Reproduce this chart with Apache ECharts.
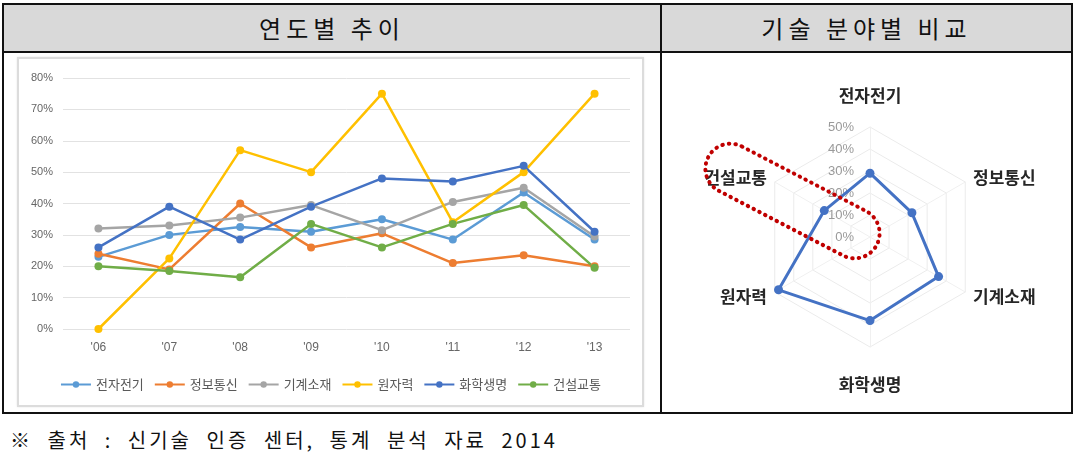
<!DOCTYPE html>
<html><head><meta charset="utf-8">
<script src="https://cdn.jsdelivr.net/npm/echarts@6/dist/echarts.min.js"></script>
<style>
html,body{margin:0;padding:0;background:#fff;width:1079px;height:457px;overflow:hidden;font-family:'Noto Sans CJK KR','Noto Sans',sans-serif;}
.abs{position:absolute;box-sizing:border-box;}
</style></head>
<body>
<div class="abs" style="left:2px;top:3px;width:1071px;height:411px;border:2px solid #111;"></div>
<div class="abs" style="left:4px;top:5px;width:1067px;height:46px;background:#d9d9d9;"></div>
<div class="abs" style="left:2px;top:51px;width:1071px;height:2px;background:#111;"></div>
<div class="abs" style="left:660px;top:3px;width:2px;height:411px;background:#111;"></div>
<div class="abs" style="left:4px;top:5px;width:656px;height:46px;line-height:46px;text-align:center;font-size:24px;font-weight:400;letter-spacing:5px;color:#111;">연도별 추이</div>
<div class="abs" style="left:662px;top:5px;width:409px;height:46px;line-height:46px;text-align:center;font-size:24px;font-weight:400;letter-spacing:5px;color:#111;">기술 분야별 비교</div>
<div class="abs" style="left:17px;top:57px;width:627px;height:350px;border:2px solid #dcdcdc;box-shadow:0 0 2px #e6e6e6;"></div>
<div id="line" class="abs" style="left:17px;top:57px;width:627px;height:350px;"></div>
<div id="radar" class="abs" style="left:662px;top:53px;width:409px;height:359px;"></div>
<div class="abs" style="left:10px;top:426px;height:28px;line-height:28px;font-size:20px;font-weight:400;letter-spacing:3px;word-spacing:7px;color:#111;white-space:nowrap;">※ 출처 : 신기술 인증 센터, 통계 분석 자료 2014</div>
<script>
// ---- data: line chart ----
const years = ["'06", "'07", "'08", "'09", "'10", "'11", "'12", "'13"];
const seriesNames = ['전자전기', '정보통신', '기계소재', '원자력', '화학생명', '건설교통'];
const elec    = [23, 30, 32.5, 31, 35, 28.5, 43.5, 28.5];
const info    = [24, 19, 40, 26, 30.5, 21, 23.5, 20];
const mech    = [32, 33, 35.5, 39.5, 31.5, 40.5, 45, 29.5];
const nuclear = [0, 22.5, 57, 50, 75, 34, 50, 75];
const chem    = [26, 39, 28.5, 39, 48, 47, 52, 31];
const constr  = [20, 18.5, 16.5, 33.5, 26, 33.5, 39.5, 19.5];
const yTicks = [0, 10, 20, 30, 40, 50, 60, 70, 80];
// ---- data: radar (counter-clockwise from top) ----
const radarFields = ['전자전기', '건설교통', '원자력', '화학생명', '기계소재', '정보통신'];
const radarValues = [29, 24, 48, 38, 36, 22];
const radarTicks = [0, 10, 20, 30, 40, 50];

const colors = ['#5B9BD5', '#ED7D31', '#A5A5A5', '#FFC000', '#4472C4', '#70AD47'];
const values = [elec, info, mech, nuclear, chem, constr];
const FONT = "'Liberation Sans','Noto Sans CJK KR',sans-serif";
const KFONT = "'Noto Sans CJK KR',sans-serif";

const line = echarts.init(document.getElementById('line'), null, {renderer: 'canvas'});
line.setOption({
  animation: false,
  textStyle: {fontFamily: FONT},
  grid: {left: 46, right: 14, top: 21, bottom: 78},
  xAxis: {
    type: 'category', data: years, boundaryGap: true,
    axisLine: {show: false}, axisTick: {show: false},
    axisLabel: {color: '#666', fontSize: 12, margin: 13, fontFamily: FONT}
  },
  yAxis: {
    type: 'value', min: yTicks[0], max: yTicks[yTicks.length - 1], interval: 10,
    axisLine: {show: false}, axisTick: {show: false},
    axisLabel: {formatter: '{value}%', color: '#666', fontSize: 11, margin: 10, fontFamily: FONT},
    splitLine: {lineStyle: {color: '#e2e2e2', width: 1}}
  },
  legend: {
    top: 316, left: 'center', itemWidth: 30, itemHeight: 8, itemGap: 10,
    textStyle: {color: '#595959', fontSize: 13, fontFamily: KFONT},
    data: seriesNames
  },
  series: seriesNames.map((n, i) => ({
    name: n, type: 'line', data: values[i],
    symbol: 'circle', symbolSize: 8,
    lineStyle: {width: 2.5, color: colors[i]},
    itemStyle: {color: colors[i]}
  }))
});

const radar = echarts.init(document.getElementById('radar'), null, {renderer: 'canvas'});
const CX = 208, CY = 184, R = 110;
radar.setOption({
  animation: false,
  textStyle: {fontFamily: FONT},
  radar: {
    center: [CX, CY], radius: R, startAngle: 90, shape: 'polygon',
    splitNumber: radarTicks.length - 1,
    indicator: radarFields.map(n => ({name: n, min: radarTicks[0], max: radarTicks[radarTicks.length - 1]})),
    nameGap: 9,
    axisName: {
      color: '#262626', fontSize: 17, fontWeight: 'bold', fontFamily: KFONT,
      formatter: function (name) {
        if (name === '전자전기') return '{t|' + name + '}';
        if (name === '화학생명') return '{b|' + name + '}';
        return name;
      },
      rich: {
        t: {fontSize: 17, fontWeight: 'bold', color: '#262626', padding: [0, 0, 14, 0], fontFamily: KFONT},
        b: {fontSize: 17, fontWeight: 'bold', color: '#262626', padding: [20, 0, 0, 0], fontFamily: KFONT}
      }
    },
    splitLine: {lineStyle: {color: '#ebebeb', width: 1}},
    splitArea: {show: false},
    axisLine: {lineStyle: {color: '#f0f0f0'}},
    axisTick: {show: false},
    axisLabel: {show: false}
  },
  polar: {center: [CX, CY], radius: R},
  angleAxis: {show: false, startAngle: 90, min: 0, max: 360},
  radiusAxis: {
    type: 'value', min: radarTicks[0], max: radarTicks[radarTicks.length - 1], interval: 10,
    axisLine: {show: false}, axisTick: {show: false}, splitLine: {show: false},
    axisLabel: {formatter: '{value}%', color: '#9a9a9a', fontSize: 13, margin: 16, fontFamily: FONT}
  },
  series: [{
    type: 'radar',
    data: [{value: radarValues, name: '비교'}],
    symbol: 'circle', symbolSize: 9,
    lineStyle: {color: '#4472C4', width: 3},
    itemStyle: {color: '#4472C4'}
  }],
  graphic: [{
    type: 'rect', z: 100,
    x: 130.5, y: 148, rotation: -27.5 * Math.PI / 180,
    shape: {x: -95, y: -25, width: 190, height: 50, r: 25},
    style: {fill: 'none', stroke: '#c00000', lineWidth: 4, lineDash: [0.5, 6], lineCap: 'round'}
  }]
});
</script>
</body></html>
